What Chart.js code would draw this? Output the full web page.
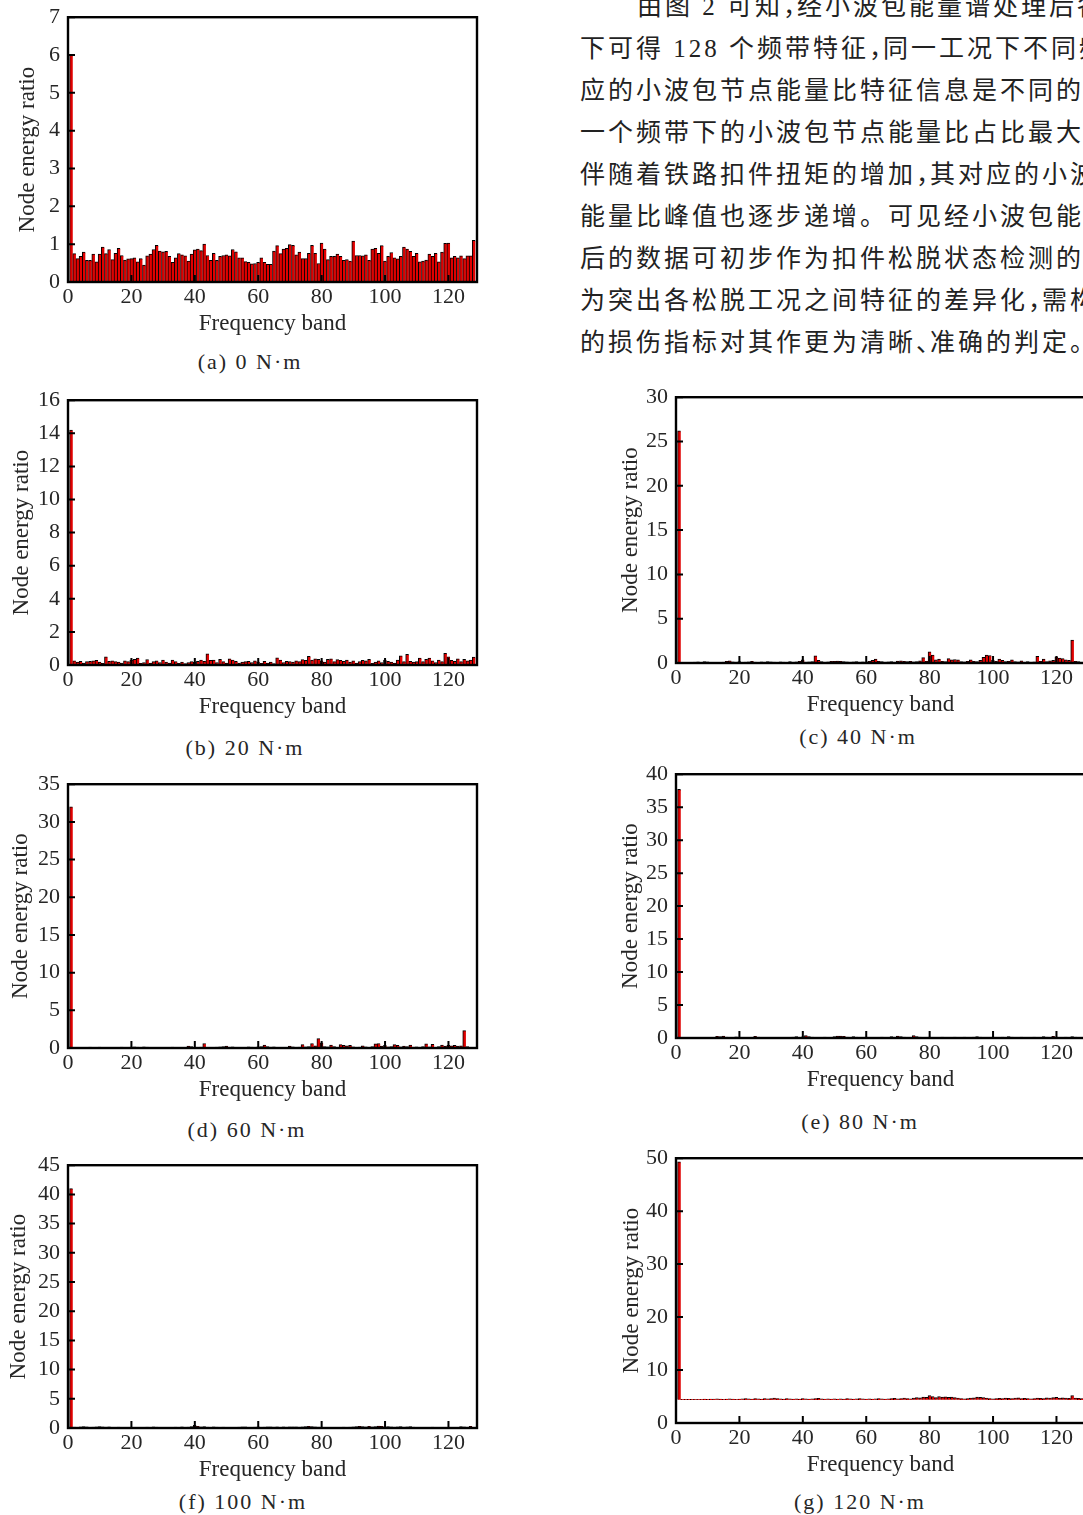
<!DOCTYPE html>
<html lang="zh-CN">
<head>
<meta charset="utf-8">
<title>Node energy ratio</title>
<script src="https://cdn.jsdelivr.net/npm/chart.js@4.4.0/dist/chart.umd.min.js"></script>
<style>
  html, body { margin: 0; padding: 0; background: #fff; width: 1083px; height: 1515px; overflow: hidden; position: relative; }
  canvas { position: absolute; }
  .cap { position: absolute; font: 22px "Liberation Serif", serif; letter-spacing: 2px; color: #262626; white-space: nowrap; transform: translate(-50%, -50%); }
  .para { position: absolute; left: 580px; top: -14px; font-family: "Liberation Serif", "Noto Sans CJK SC", sans-serif; font-size: 25px; line-height: 42px; letter-spacing: 3px; color: #222; white-space: nowrap; }
  .para .p { letter-spacing: -11px; }
</style>
</head>
<body>
<div class="para">
  <div style="text-indent:57px">由图 2 可知<span class="p">，</span>经小波包能量谱处理后各工况</div>
  <div>下可得 128 个频带特征<span class="p">，</span>同一工况下不同频带对</div>
  <div>应的小波包节点能量比特征信息是不同的<span class="p">，</span></div>
  <div>一个频带下的小波包节点能量比占比最大<span class="p">，</span></div>
  <div>伴随着铁路扣件扭矩的增加<span class="p">，</span>其对应的小波包节点</div>
  <div>能量比峰值也逐步递增。可见经小波包能量谱处理</div>
  <div>后的数据可初步作为扣件松脱状态检测的依据<span class="p">，</span></div>
  <div>为突出各松脱工况之间特征的差异化<span class="p">，</span>需构建合适</div>
  <div>的损伤指标对其作更为清晰<span class="p">、</span>准确的判定<span class="p">。</span></div>
</div>
<script>
// frequency bands 1..128
const bands = Array.from({ length: 128 }, (_, i) => i + 1);
const xTicks = [0, 20, 40, 60, 80, 100, 120];

// (a) 0 N·m
const vals0 = [6.0,
  0.75,0.62,0.68,0.79,0.57,0.57,0.74,0.53,0.74,0.92,
  0.75,0.86,0.59,0.76,0.89,0.70,0.58,0.61,0.62,0.64,
  0.53,0.62,0.45,0.69,0.74,0.86,0.97,0.82,0.80,0.81,
  0.68,0.52,0.64,0.75,0.72,0.69,0.55,0.74,0.85,0.87,
  0.83,1.00,0.70,0.57,0.76,0.57,0.68,0.70,0.72,0.69,
  0.86,0.80,0.64,0.64,0.54,0.52,0.48,0.49,0.52,0.64,
  0.52,0.47,0.47,0.82,0.96,0.75,0.87,0.89,0.99,0.97,
  0.72,0.79,0.62,0.62,0.76,0.97,0.76,0.49,1.03,0.87,
  0.59,0.68,0.68,0.74,0.68,0.57,0.59,0.55,1.08,0.70,
  0.70,0.69,0.72,0.57,0.87,0.89,0.76,0.96,0.55,0.68,
  0.78,0.64,0.61,0.68,0.92,0.87,0.81,0.68,0.76,0.53,
  0.55,0.58,0.74,0.68,0.76,0.53,0.79,1.02,1.03,0.64,
  0.68,0.64,0.69,0.62,0.69,0.69,1.10];

// (b) 20 N·m
const vals20 = [14.2,
  0.25,0.18,0.22,0.12,0.2,0.22,0.25,0.28,0.18,0.1,
  0.5,0.22,0.25,0.2,0.18,0.12,0.25,0.2,0.3,0.35,
  0.42,0.1,0.15,0.33,0.12,0.2,0.25,0.15,0.3,0.18,
  0.12,0.3,0.2,0.1,0.18,0.08,0.15,0.2,0.18,0.22,
  0.3,0.22,0.68,0.28,0.3,0.15,0.35,0.2,0.12,0.38,
  0.3,0.22,0.12,0.18,0.2,0.22,0.15,0.25,0.18,0.1,
  0.22,0.12,0.18,0.08,0.43,0.3,0.15,0.22,0.2,0.18,
  0.25,0.2,0.32,0.28,0.53,0.3,0.38,0.35,0.25,0.18,
  0.35,0.38,0.2,0.32,0.28,0.22,0.3,0.18,0.25,0.12,
  0.2,0.28,0.25,0.35,0.1,0.18,0.25,0.15,0.3,0.22,
  0.18,0.12,0.3,0.55,0.2,0.65,0.22,0.18,0.2,0.42,
  0.2,0.35,0.42,0.25,0.15,0.3,0.2,0.7,0.5,0.28,
  0.22,0.38,0.2,0.35,0.25,0.3,0.48];

// (c) 40 N·m
const vals40 = [26.2,
  0.05,0.04,0.06,0.05,0.1,0.12,0.08,0.15,0.12,0.08,
  0.06,0.05,0.08,0.1,0.2,0.25,0.12,0.1,0.15,0.08,
  0.1,0.12,0.2,0.1,0.08,0.12,0.1,0.15,0.12,0.1,
  0.08,0.12,0.1,0.08,0.15,0.1,0.12,0.2,0.35,0.1,
  0.12,0.15,0.8,0.3,0.15,0.1,0.12,0.2,0.18,0.22,
  0.2,0.15,0.12,0.1,0.12,0.15,0.1,0.12,0.1,0.2,
  0.3,0.45,0.2,0.15,0.1,0.12,0.15,0.1,0.22,0.25,
  0.2,0.15,0.18,0.12,0.15,0.25,0.6,0.2,1.25,0.9,
  0.35,0.45,0.2,0.15,0.5,0.35,0.4,0.35,0.15,0.12,
  0.18,0.35,0.2,0.15,0.3,0.65,0.9,0.85,0.3,0.2,
  0.45,0.3,0.15,0.2,0.35,0.15,0.12,0.25,0.1,0.15,
  0.1,0.12,0.75,0.2,0.45,0.15,0.25,0.3,0.7,0.55,
  0.5,0.35,0.3,2.6,0.2,0.15,0.1];

// (d) 60 N·m
const vals60 = [32.0,
  0.05,0.04,0.03,0.06,0.1,0.12,0.1,0.08,0.12,0.08,
  0.1,0.06,0.05,0.08,0.1,0.12,0.08,0.1,0.12,0.15,
  0.12,0.1,0.15,0.12,0.1,0.05,0.03,0.04,0.05,0.08,
  0.1,0.12,0.08,0.05,0.06,0.1,0.25,0.2,0.08,0.1,
  0.12,0.6,0.08,0.1,0.05,0.12,0.15,0.2,0.25,0.12,
  0.15,0.1,0.08,0.05,0.1,0.15,0.12,0.1,0.15,0.2,
  0.38,0.2,0.12,0.15,0.1,0.05,0.08,0.1,0.25,0.15,
  0.1,0.12,0.45,0.15,0.2,0.6,0.3,1.25,0.7,0.2,
  0.15,0.4,0.2,0.1,0.45,0.35,0.3,0.35,0.15,0.1,
  0.12,0.3,0.15,0.1,0.2,0.55,0.6,0.25,0.35,0.15,
  0.2,0.45,0.35,0.15,0.25,0.2,0.4,0.12,0.15,0.1,
  0.2,0.55,0.15,0.5,0.1,0.2,0.4,0.25,0.35,0.3,
  0.35,0.25,0.3,2.3,0.2,0.1,0.08];

// (e) 80 N·m
const vals80 = [37.7,
  0.02,0.02,0.03,0.02,0.02,0.03,0.02,0.05,0.08,0.1,
  0.12,0.25,0.2,0.3,0.15,0.1,0.12,0.18,0.1,0.05,
  0.08,0.12,0.1,0.25,0.15,0.08,0.05,0.1,0.12,0.08,
  0.05,0.08,0.1,0.12,0.08,0.15,0.2,0.12,0.18,0.35,
  0.2,0.15,0.1,0.08,0.12,0.15,0.1,0.08,0.22,0.3,
  0.3,0.25,0.15,0.1,0.2,0.15,0.12,0.1,0.15,0.08,
  0.1,0.12,0.08,0.15,0.1,0.12,0.2,0.15,0.3,0.2,
  0.15,0.1,0.12,0.35,0.2,0.15,0.1,0.12,0.15,0.1,
  0.12,0.1,0.15,0.08,0.12,0.1,0.15,0.12,0.1,0.15,
  0.1,0.12,0.15,0.2,0.15,0.1,0.12,0.1,0.15,0.12,
  0.1,0.15,0.12,0.2,0.15,0.12,0.1,0.15,0.12,0.1,
  0.12,0.15,0.1,0.12,0.2,0.15,0.12,0.25,0.15,0.1,
  0.12,0.15,0.1,0.2,0.15,0.12,0.1];

// (f) 100 N·m
const vals100 = [41.0,
  0.15,0.12,0.2,0.25,0.18,0.1,0.15,0.2,0.25,0.18,
  0.15,0.2,0.12,0.1,0.15,0.05,0.1,0.08,0.05,0.04,
  0.05,0.1,0.12,0.15,0.1,0.2,0.15,0.1,0.08,0.06,
  0.1,0.12,0.15,0.1,0.18,0.12,0.15,0.25,0.45,0.3,
  0.2,0.25,0.15,0.12,0.2,0.15,0.1,0.15,0.12,0.08,
  0.1,0.12,0.15,0.2,0.18,0.1,0.12,0.15,0.2,0.12,
  0.15,0.2,0.18,0.15,0.2,0.12,0.18,0.15,0.2,0.22,
  0.18,0.15,0.2,0.25,0.3,0.25,0.2,0.15,0.12,0.1,
  0.05,0.06,0.08,0.1,0.12,0.15,0.12,0.15,0.2,0.25,
  0.28,0.25,0.2,0.3,0.22,0.25,0.35,0.3,0.2,0.25,
  0.18,0.15,0.2,0.25,0.15,0.2,0.25,0.15,0.1,0.12,
  0.08,0.05,0.1,0.15,0.1,0.08,0.12,0.1,0.08,0.05,
  0.1,0.12,0.25,0.2,0.15,0.3,0.1];

// (g) 120 N·m  (bar tops; bars in the figure stand on a raised base)
const vals120 = [49.3,
  4.45,4.45,4.45,4.45,4.45,4.45,4.45,4.5,4.45,4.5,
  4.5,4.55,4.5,4.45,4.5,4.55,4.5,4.45,4.5,4.55,
  4.6,4.55,4.5,4.6,4.55,4.5,4.6,4.55,4.6,4.7,
  4.6,4.55,4.5,4.6,4.55,4.5,4.55,4.5,4.6,4.55,
  4.5,4.55,4.6,4.65,4.55,4.5,4.55,4.5,4.55,4.5,
  4.55,4.5,4.6,4.55,4.5,4.55,4.6,4.55,4.5,4.55,
  4.5,4.55,4.6,4.55,4.5,4.55,4.6,4.65,4.55,4.6,
  4.7,4.6,4.55,4.7,4.8,4.75,4.9,4.85,5.2,5.0,
  4.8,5.0,4.9,4.95,4.85,4.9,4.8,4.7,4.6,4.55,
  4.6,4.7,4.75,4.9,4.85,4.8,4.7,4.6,4.55,4.6,
  4.65,4.6,4.7,4.65,4.6,4.7,4.75,4.6,4.65,4.6,
  4.55,4.6,4.7,4.65,4.6,4.75,4.7,4.8,4.85,4.7,
  4.75,4.7,4.65,5.2,4.7,4.65,4.6];

const yTicksA = [0, 1, 2, 3, 4, 5, 6, 7];
const yTicksB = [0, 2, 4, 6, 8, 10, 12, 14, 16];
const yTicksC = [0, 5, 10, 15, 20, 25, 30];
const yTicksD = [0, 5, 10, 15, 20, 25, 30, 35];
const yTicksE = [0, 5, 10, 15, 20, 25, 30, 35, 40];
const yTicksF = [0, 5, 10, 15, 20, 25, 30, 35, 40, 45];
const yTicksG = [0, 10, 20, 30, 40, 50];

const captions = ['(a) 0 N·m', '(b) 20 N·m', '(c) 40 N·m', '(d) 60 N·m', '(e) 80 N·m', '(f) 100 N·m', '(g) 120 N·m'];

// layout of each panel on the page
const panels = [
  { vals: vals0,   ticks: yTicksA, col: 0, top: 12,   h: 270, titleX: 28, capX: 250, capY: 362 },
  { vals: vals20,  ticks: yTicksB, col: 0, top: 395,  h: 270, titleX: 22, capX: 245, capY: 748 },
  { vals: vals40,  ticks: yTicksC, col: 1, top: 392,  h: 271, titleX: 31, capX: 858, capY: 737 },
  { vals: vals60,  ticks: yTicksD, col: 0, top: 779,  h: 269, titleX: 21, capX: 247, capY: 1130 },
  { vals: vals80,  ticks: yTicksE, col: 1, top: 769,  h: 269, titleX: 31, capX: 860, capY: 1122 },
  { vals: vals100, ticks: yTicksF, col: 0, top: 1160, h: 268, titleX: 19, capX: 243, capY: 1502 },
  { vals: vals120, ticks: yTicksG, col: 1, top: 1153, h: 270, titleX: 32, capX: 860, capY: 1502, base: 4.4 },
];

const PAD_T = 16, PAD_R = 20, X_H = 56, PLOT_W = 409;
const cols = [{ left: 0, yW: 68 }, { left: 600, yW: 76 }];
const ink = '#262626';

// box around the plot and inward tick marks
const framePlugin = {
  id: 'frame',
  afterDatasetsDraw(chart) {
    const { ctx, chartArea: a, scales: { x, y } } = chart;
    ctx.save();
    ctx.strokeStyle = '#000';
    ctx.lineWidth = 2.4;
    ctx.strokeRect(a.left, a.top, a.right - a.left, a.bottom - a.top);
    ctx.lineWidth = 2;
    ctx.beginPath();
    y.ticks.forEach((t) => {
      const py = y.getPixelForValue(t.value);
      ctx.moveTo(a.left, py);
      ctx.lineTo(a.left + 7, py);
    });
    x.ticks.forEach((t) => {
      const px = x.getPixelForValue(t.value);
      ctx.moveTo(px, a.bottom);
      ctx.lineTo(px, a.bottom - 7);
    });
    ctx.stroke();
    ctx.restore();
  },
};

panels.forEach((p, k) => {
  const col = cols[p.col];
  const canvas = document.createElement('canvas');
  canvas.width = col.yW + PLOT_W + PAD_R;
  canvas.height = PAD_T + p.h + X_H;
  canvas.style.left = col.left + 'px';
  canvas.style.top = (p.top - PAD_T) + 'px';
  document.body.appendChild(canvas);

  const cap = document.createElement('div');
  cap.className = 'cap';
  cap.textContent = captions[k];
  cap.style.left = p.capX + 'px';
  cap.style.top = p.capY + 'px';
  document.body.appendChild(cap);

  const ds = {
    data: bands.map((b, i) => ({ x: b, y: p.vals[i] })),
    backgroundColor: '#e00000',
    borderColor: '#000',
    borderWidth: { top: 1, left: 1, right: 0, bottom: 0 },
    borderSkipped: false,
    barPercentage: 1,
    categoryPercentage: 1,
  };
  if (p.base !== undefined) ds.base = p.base;

  new Chart(canvas, {
    type: 'bar',
    data: { datasets: [ds] },
    options: {
      responsive: false,
      animation: false,
      devicePixelRatio: 1,
      layout: { padding: { top: PAD_T, right: PAD_R, bottom: 0, left: 0 } },
      plugins: { legend: { display: false }, tooltip: { enabled: false } },
      scales: {
        x: {
          type: 'linear',
          min: 0,
          max: 129,
          offset: false,
          grid: { display: false, drawTicks: false },
          border: { display: false },
          afterBuildTicks: (scale) => { scale.ticks = xTicks.map((v) => ({ value: v })); },
          afterFit: (scale) => { scale.height = X_H; },
          ticks: { autoSkip: false, maxRotation: 0, padding: 2, color: ink, font: { family: 'Liberation Serif', size: 22 } },
          title: { display: true, text: 'Frequency band', color: ink, padding: 0, font: { family: 'Liberation Serif', size: 23 } },
        },
        y: {
          min: 0,
          max: p.ticks[p.ticks.length - 1],
          grid: { display: false, drawTicks: false },
          border: { display: false },
          afterBuildTicks: (scale) => { scale.ticks = p.ticks.map((v) => ({ value: v })); },
          afterFit: (scale) => { scale.width = col.yW; },
          ticks: { autoSkip: false, padding: 8, color: ink, font: { family: 'Liberation Serif', size: 22 } },
          title: { display: true, text: 'Node energy ratio', color: ink, padding: { top: p.titleX - 13.8, bottom: 0 }, font: { family: 'Liberation Serif', size: 23 } },
        },
      },
    },
    plugins: [framePlugin],
  });
});
</script>
</body>
</html>
